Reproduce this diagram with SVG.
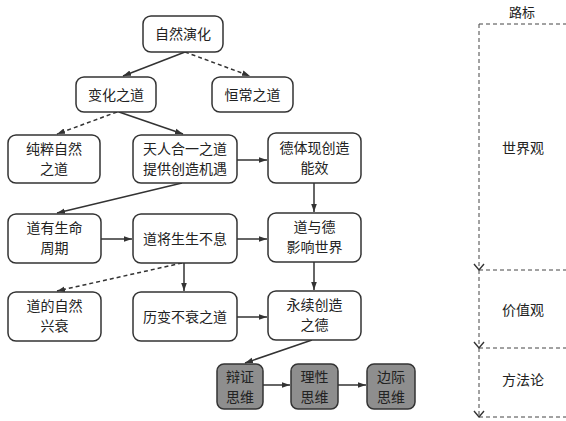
<svg xmlns="http://www.w3.org/2000/svg" width="566" height="421" viewBox="0 0 566 421">
<style>
.n rect{fill:#fff;stroke:#333;stroke-width:1.5}
.g rect{fill:#8e8e8e;stroke:#333;stroke-width:1.5}
text{font-family:"Noto Sans CJK SC",sans-serif;font-size:14px;fill:#222;text-anchor:middle}
.c line{stroke:#333;stroke-width:1.5;marker-end:url(#a)}
.c .d{stroke-dasharray:4 3}
.r line{stroke:#444;stroke-width:1;stroke-dasharray:4 3}
.r .v{marker-end:url(#o)}
</style>
<defs>
<marker id="a" viewBox="0 0 10 10" refX="10" refY="5" markerWidth="8" markerHeight="8" markerUnits="userSpaceOnUse" orient="auto"><path d="M0,1.5 L10,5 L0,8.5 Z" fill="#333"/></marker>
<marker id="o" viewBox="0 0 12 12" refX="6" refY="10" markerWidth="12" markerHeight="12" markerUnits="userSpaceOnUse" orient="0"><path d="M1,4 L6,10 L11,4" fill="none" stroke="#333" stroke-width="1.4"/></marker>
</defs>
<g class="c">
<line x1="185" y1="52" x2="123" y2="76"/>
<line class="d" x1="185" y1="52" x2="250" y2="76"/>
<line class="d" x1="117" y1="112" x2="57" y2="134"/>
<line x1="119" y1="112" x2="183" y2="134"/>
<line x1="237" y1="160" x2="267" y2="160"/>
<line x1="182" y1="183" x2="57" y2="213"/>
<line x1="101" y1="239" x2="132" y2="239"/>
<line x1="237" y1="239" x2="267" y2="239"/>
<line x1="314" y1="183" x2="314" y2="212"/>
<line x1="314" y1="262" x2="314" y2="290"/>
<line class="d" x1="182" y1="263" x2="57" y2="291"/>
<line x1="184" y1="263" x2="184" y2="291"/>
<line x1="237" y1="317" x2="267" y2="317"/>
<line x1="312" y1="340" x2="245" y2="363"/>
<line x1="263" y1="385" x2="290" y2="385"/>
<line x1="338" y1="385" x2="366" y2="385"/>
</g>
<g id="n1" class="n"><rect x="143" y="16" width="80" height="36" rx="8"/><text x="183" y="39">自然演化</text></g>
<g id="n2" class="n"><rect x="76" y="77" width="80" height="35" rx="8"/><text x="116" y="100">变化之道</text></g>
<g id="n3" class="n"><rect x="212" y="77" width="81" height="35" rx="8"/><text x="252.5" y="100">恒常之道</text></g>
<g id="n4" class="n"><rect x="8" y="135" width="92" height="48" rx="8"/><text x="54" y="154">纯粹自然</text><text x="54" y="174">之道</text></g>
<g id="n5" class="n"><rect x="133" y="135" width="104" height="48" rx="8"/><text x="185" y="154">天人合一之道</text><text x="185" y="174">提供创造机遇</text></g>
<g id="n6" class="n"><rect x="268" y="133" width="93" height="50" rx="8"/><text x="314.5" y="153">德体现创造</text><text x="314.5" y="173">能效</text></g>
<g id="n7" class="n"><rect x="8" y="214" width="93" height="49" rx="8"/><text x="54.5" y="233">道有生命</text><text x="54.5" y="253">周期</text></g>
<g id="n8" class="n"><rect x="133" y="214" width="104" height="49" rx="8"/><text x="185" y="244">道将生生不息</text></g>
<g id="n9" class="n"><rect x="268" y="213" width="93" height="49" rx="8"/><text x="314.5" y="232">道与德</text><text x="314.5" y="252">影响世界</text></g>
<g id="n10" class="n"><rect x="8" y="292" width="93" height="49" rx="8"/><text x="54.5" y="311">道的自然</text><text x="54.5" y="331">兴衰</text></g>
<g id="n11" class="n"><rect x="133" y="292" width="104" height="49" rx="8"/><text x="185" y="322">历变不衰之道</text></g>
<g id="n12" class="n"><rect x="268" y="291" width="93" height="49" rx="8"/><text x="314.5" y="310">永续创造</text><text x="314.5" y="330">之德</text></g>
<g id="n13" class="g"><rect x="217" y="364" width="46" height="45" rx="7"/><text x="240" y="382">辩证</text><text x="240" y="402">思维</text></g>
<g id="n14" class="g"><rect x="291" y="364" width="47" height="45" rx="7"/><text x="314.5" y="382">理性</text><text x="314.5" y="402">思维</text></g>
<g id="n15" class="g"><rect x="367" y="364" width="48" height="45" rx="7"/><text x="391" y="382">边际</text><text x="391" y="402">思维</text></g>
<g id="ruler" class="r">
<text x="522" y="17" style="font-size:13px">路标</text>
<line x1="479" y1="24" x2="566" y2="24"/>
<line x1="479" y1="270" x2="566" y2="270"/>
<line x1="479" y1="348" x2="566" y2="348"/>
<line x1="479" y1="417" x2="566" y2="417"/>
<line class="v" x1="479" y1="24" x2="479" y2="270"/>
<line class="v" x1="479" y1="270" x2="479" y2="348"/>
<line class="v" x1="479" y1="348" x2="479" y2="417"/>
<text x="523" y="153">世界观</text>
<text x="523" y="315">价值观</text>
<text x="523" y="385">方法论</text>
</g>
</svg>
